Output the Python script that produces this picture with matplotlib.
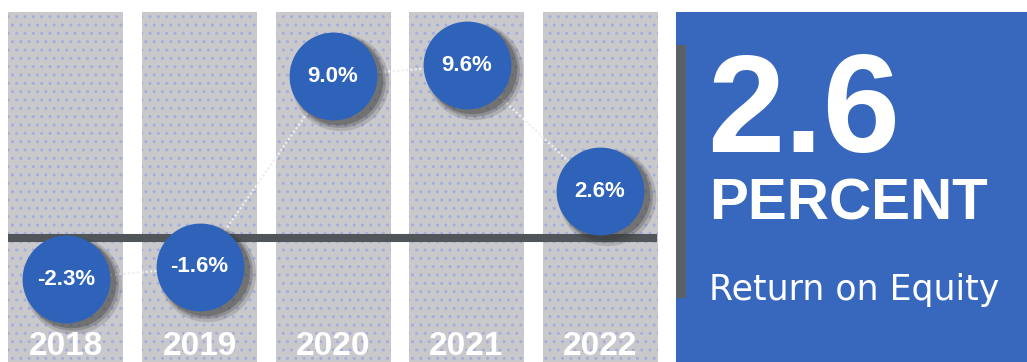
import matplotlib.pyplot as plt
import matplotlib.transforms as mtransforms
from matplotlib.patches import Rectangle

years = ["2018", "2019", "2020", "2021", "2022"]
roe = [-2.3, -1.6, 9.0, 9.6, 2.6]
labels = ["-2.3%", "-1.6%", "9.0%", "9.6%", "2.6%"]
headline = "2.6"
unit = "PERCENT"
caption = "Return on Equity"

W, H = 1027, 362
col_gray = "#c9c9cc"
dot_col = "#a3ade0"
blue = "#2f63b9"
panel_blue = "#3868bd"
dark = "#4f5559"

plt.rcParams['font.family'] = ['Liberation Sans', 'DejaVu Sans']
plt.rcParams['hatch.linewidth'] = 1.0

fig = plt.figure(figsize=(W / 100, H / 100), dpi=100)
ax = fig.add_axes([0, 0, 1, 1])
ax.axis('off')

# pixel mapping: index 0 at x=66px, spacing 133.5px; zero at y=124px from bottom, 18px per unit
sx, x0 = 133.5, 66
sy, y0 = 18.0, 124
ax.set_xlim(-x0 / sx, (W - x0) / sx)
ax.set_ylim(-y0 / sy, (H - y0) / sy)

idx = list(range(len(years)))
bot = -y0 / sy
top = (H - 12 - y0) / sy
ax.bar(idx, top - bot, bottom=bot, width=115 / sx, color=col_gray,
       hatch='..', edgecolor=dot_col, linewidth=0, zorder=1)

# zero line
ax.axhline(0, xmin=8 / W, xmax=657 / W, color=dark, lw=5.8,
           solid_capstyle='butt', zorder=2)

# dotted connectors
ax.plot(idx, roe, color="#eeeeee", lw=1.6, ls=(0, (1, 1)), zorder=3)

# circles with soft shadow
s = 4000
for dx, dy, a, extra in [(7, -6, 0.18, 900), (6, -5, 0.25, 450), (5, -4, 0.35, 150)]:
    off = mtransforms.offset_copy(ax.transData, fig=fig, x=dx, y=dy, units='dots')
    ax.scatter(idx, roe, s=s + extra, color="#3a3a3a", alpha=a, linewidths=0,
               transform=off, zorder=4)
ax.scatter(idx, roe, s=s, color=blue, linewidths=0, zorder=5)
for i, v, t in zip(idx, roe, labels):
    ax.text(i, v, t, color="white", fontsize=16, fontweight='bold',
            ha='center', va='center', zorder=6)

# year labels along the bottom
xt = ax.get_xaxis_transform()
for i, y in zip(idx, years):
    ax.text(i, 0.0, y, transform=xt, color="white", fontsize=24,
            fontweight='bold', ha='center', va='bottom', zorder=6)

# right panel
ax.add_patch(Rectangle((676 / W, 0), 1 - 676 / W, (H - 12) / H, transform=ax.transAxes,
                       facecolor=panel_blue, edgecolor='none', zorder=1))
ax.add_patch(Rectangle((676 / W, (H - 298) / H), 10 / W, 253 / H, transform=ax.transAxes,
                       facecolor="#5b5f66", edgecolor='none', zorder=2))
ax.text(707 / W, (H - 152) / H, headline, transform=ax.transAxes, color="white",
        fontsize=100, fontweight='bold', ha='left', va='baseline', zorder=3)
ax.text(709 / W, (H - 220) / H, unit, transform=ax.transAxes, color="white",
        fontsize=42, fontweight='bold', ha='left', va='baseline', zorder=3)
ax.text(709 / W, (H - 300) / H, caption, transform=ax.transAxes, color="white",
        fontsize=25, family=['DejaVu Sans'], ha='left', va='baseline', zorder=3)

fig.savefig("out.png", dpi=100)
